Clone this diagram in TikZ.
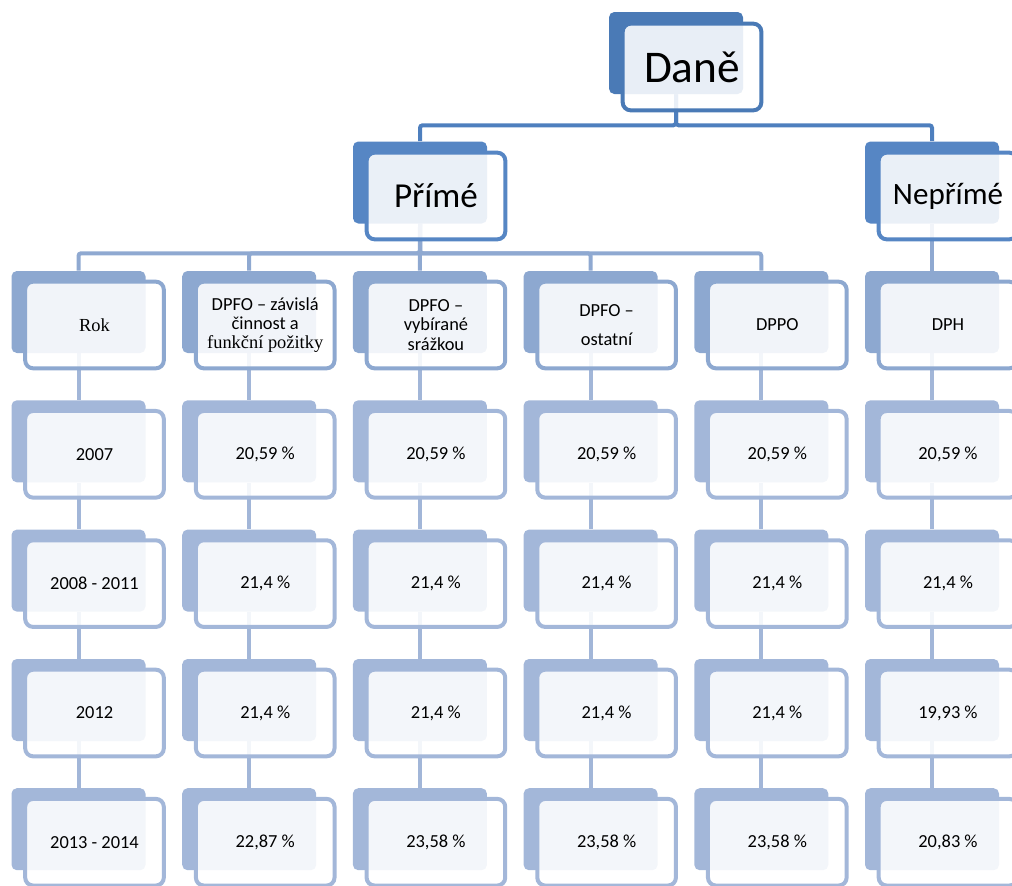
\documentclass[tikz,border=0pt]{standalone}
\usepackage{fontspec}
\setmainfont{Carlito}
\newfontfamily\tnr{Liberation Serif}
\usetikzlibrary{backgrounds}
\definecolor{cA}{HTML}{4A7AB6}
\definecolor{cB}{HTML}{5686C4}
\definecolor{cC}{HTML}{8DA8D0}
\definecolor{cD}{HTML}{A3B7D9}
\definecolor{lA}{HTML}{4E7FBE}
\definecolor{lC}{HTML}{8FA9D1}
\definecolor{lD}{HTML}{A2B6D8}
\begin{document}
\begin{tikzpicture}[x=0.75pt,y=-0.75pt,
 backbox/.style={rectangle, rounded corners=4pt, minimum width=100.5pt, minimum height=61.5pt, inner sep=0pt, fill=#1},
 frontbox/.style={rectangle, rounded corners=6pt, minimum width=104pt, minimum height=65pt, inner sep=2pt, draw=#1, line width=3pt, fill=white, fill opacity=0.88, text opacity=1, align=center, font=\fontsize{13.8}{14.5}\selectfont},
 conn/.style={draw=#1, line width=3pt, rounded corners=2pt},
]
\useasboundingbox (0,0) rectangle (1012,885);
\newcommand\mycell[5]{%
  \node[backbox=#4] (b-#1) at (#2,#3) {};
  \node[frontbox=#4] (f-#1) at ([shift={(16,13)}]b-#1) {#5};}
% level 1
\node[backbox=cA] (d-b) at (676,53) {};
\node[frontbox=cA, font=\fontsize{34}{40}\selectfont] (d-f) at ([shift={(16,14)}]d-b) {Daně};
% level 2
\node[backbox=cB] (p-b) at (420,182.5) {};
\node[frontbox=cB, font=\fontsize{26.3}{30}\selectfont] (p-f) at ([shift={(16,13.5)}]p-b) {Přímé};
\node[backbox=cB] (n-b) at (932,182.5) {};
\node[frontbox=cB, font=\fontsize{23.3}{28}\selectfont] (n-f) at ([shift={(16,13.5)}]n-b) {Nepřímé};
% level 3
\mycell{0-0}{78.5}{312}{cC}{{\tnr Rok}}
\mycell{1-0}{249.2}{312}{cC}{DPFO – závislá\\činnost a\\{\tnr funkční požitky}}
\mycell{2-0}{419.9}{312}{cC}{DPFO –\\vybírané\\srážkou}
\mycell{3-0}{590.6}{312}{cC}{DPFO –\\[7pt]ostatní}
\mycell{4-0}{761.3}{312}{cC}{DPPO}
\mycell{5-0}{932}{312}{cC}{DPH}
% rows
\mycell{0-1}{78.5}{441.3}{cD}{2007}
\mycell{1-1}{249.2}{441.3}{cD}{20,59 \%}
\mycell{2-1}{419.9}{441.3}{cD}{20,59 \%}
\mycell{3-1}{590.6}{441.3}{cD}{20,59 \%}
\mycell{4-1}{761.3}{441.3}{cD}{20,59 \%}
\mycell{5-1}{932}{441.3}{cD}{20,59 \%}
\mycell{0-2}{78.5}{570.6}{cD}{2008 - 2011}
\mycell{1-2}{249.2}{570.6}{cD}{21,4 \%}
\mycell{2-2}{419.9}{570.6}{cD}{21,4 \%}
\mycell{3-2}{590.6}{570.6}{cD}{21,4 \%}
\mycell{4-2}{761.3}{570.6}{cD}{21,4 \%}
\mycell{5-2}{932}{570.6}{cD}{21,4 \%}
\mycell{0-3}{78.5}{700}{cD}{2012}
\mycell{1-3}{249.2}{700}{cD}{21,4 \%}
\mycell{2-3}{419.9}{700}{cD}{21,4 \%}
\mycell{3-3}{590.6}{700}{cD}{21,4 \%}
\mycell{4-3}{761.3}{700}{cD}{21,4 \%}
\mycell{5-3}{932}{700}{cD}{19,93 \%}
\mycell{0-4}{78.5}{829.2}{cD}{2013 - 2014}
\mycell{1-4}{249.2}{829.2}{cD}{22,87 \%}
\mycell{2-4}{419.9}{829.2}{cD}{23,58 \%}
\mycell{3-4}{590.6}{829.2}{cD}{23,58 \%}
\mycell{4-4}{761.3}{829.2}{cD}{23,58 \%}
\mycell{5-4}{932}{829.2}{cD}{20,83 \%}
% connectors
\begin{pgfonlayer}{background}
\draw[conn=lA] (d-b.south) -- ++(0,31) -| (p-b.north);
\draw[conn=lA] (d-b.south) -- ++(0,31) -| (n-b.north);
\foreach \c in {0,1,3,4} \draw[conn=lC] (p-b.south) -- ++(0,29.5) -| (b-\c-0.north);
\draw[conn=lC] (p-b.south) -- (b-2-0.north);
\draw[conn=lC] (n-b.south) -- (b-5-0.north);
\foreach \c in {0,...,5} \foreach \r/\n in {0/1,1/2,2/3,3/4} \draw[conn=lD] (b-\c-\r.south) -- (b-\c-\n.north);
\end{pgfonlayer}
\end{tikzpicture}
\end{document}
